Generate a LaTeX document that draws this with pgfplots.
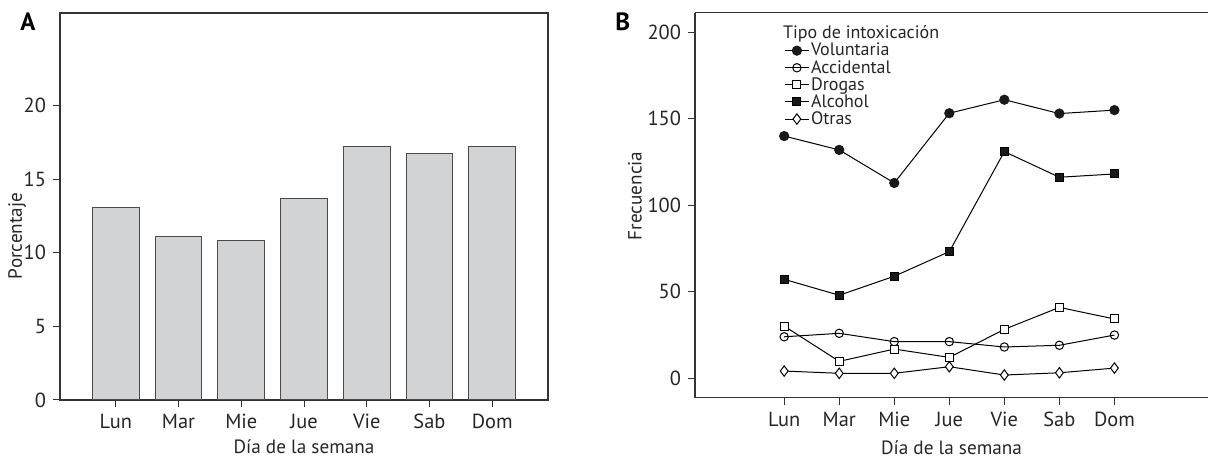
\documentclass[border=0pt]{standalone}
\usepackage{fontspec}
\setmainfont{PT Sans}
\usepackage{pgfplots}
\pgfplotsset{compat=1.18}
\definecolor{barfill}{HTML}{D1D3D4}
\definecolor{baredge}{HTML}{4A4A4A}
\definecolor{axiscol}{HTML}{333333}
\begin{document}
\begin{tikzpicture}
\path[use as bounding box] (0,0) rectangle (604pt,229.5pt);
\pgfplotsset{
  common/.style={
    scale only axis,
    anchor=south west,
    tick align=outside,
    major tick length=3.5pt,
    tick pos=left,
    axis line style={axiscol, line width=0.6pt},
    tick style={axiscol, line width=0.5pt},
    tick label style={font=\fontsize{10.2}{11}\selectfont, text=black!85},
    label style={font=\fontsize{9.6}{11}\selectfont, text=black!85},
    /pgf/number format/assume math mode=true,
    xtick={0,...,6},
    xticklabels={Lun,Mar,Mie,Jue,Vie,Sab,Dom},
    xlabel={Día de la semana},
  }
}
% Panel A
\begin{axis}[common,
  at={(30pt,29.5pt)},
  width=244pt, height=193.5pt,
  xmin=-0.89, xmax=6.89,
  ymin=0, ymax=26.3,
  ytick={0,5,10,15,20},
  ylabel={Porcentaje},
  ylabel style={at={(axis description cs:-0.088,0.424)}, anchor=center},
  xlabel style={at={(axis description cs:0.5,-0.121)}, anchor=center},
  ybar, bar width=23.3pt,
]
\addplot[fill=barfill, draw=baredge, line width=0.5pt] coordinates {
(0,13.08) (1,11.11) (2,10.86) (3,13.67) (4,17.23) (5,16.76) (6,17.23)};
\end{axis}
\node[anchor=north west, inner sep=0pt, font=\bfseries\fontsize{12.5}{14}\selectfont] at (10pt,223.4pt) {A};
% Panel B
\begin{axis}[common,
  at={(347.5pt,30.65pt)},
  width=256.5pt, height=192.5pt,
  axis x line*=bottom, axis y line*=left,
  xmin=-1.62, xmax=7.70,
  ymin=-11.2, ymax=211.3,
  ytick={0,50,100,150,200},
  ylabel={Frecuencia},
  ylabel style={at={(axis description cs:-0.117,0.524)}, anchor=center},
  xlabel style={at={(axis description cs:0.5,-0.13)}, anchor=center},
  legend style={at={(axis description cs:0.1735,0.924)}, anchor=north west,
    draw=none, fill=none, inner sep=0pt, row sep=0.25pt,
    font=\fontsize{9}{10}\selectfont,
    /tikz/every odd column/.append style={column sep=0.2pt},
    nodes={inner sep=0.6pt, text height=6.2pt, text depth=0.9pt, text=black!85}},
  legend cell align=left,
  legend image code/.code={\draw[mark repeat=2,mark phase=2,#1] plot coordinates {(0pt,0pt) (6pt,0pt) (12pt,0pt)};},
  every axis plot/.append style={line width=0.5pt, black},
]
\draw[axiscol, line width=0.6pt] (rel axis cs:0,1) -- (rel axis cs:1,1);
\addplot[mark=*, mark size=2.3pt, mark options={fill=black!90, draw=black!90}] coordinates {
(0,140) (1,132) (2,112.9) (3,153.2) (4,161) (5,153) (6,155)};
\addlegendentry{Voluntaria}
\addplot[mark=o, mark size=2.1pt, mark options={fill=white}] coordinates {
(0,24) (1,26) (2,21.2) (3,21.2) (4,18.1) (5,19.1) (6,25)};
\addlegendentry{Accidental}
\addplot[mark=square*, mark size=2pt, mark options={fill=white}] coordinates {
(0,30.2) (1,9.8) (2,16.9) (3,12.1) (4,28.3) (5,41) (6,34.3)};
\addlegendentry{Drogas}
\addplot[mark=square*, mark size=2pt, mark options={fill=black!90}] coordinates {
(0,57.2) (1,48) (2,59) (3,73.2) (4,131) (5,116.2) (6,118.1)};
\addlegendentry{Alcohol}
\addplot[mark=diamond*, mark size=2.6pt, mark options={fill=white}] coordinates {
(0,4.2) (1,2.9) (2,2.9) (3,6.7) (4,1.9) (5,3.2) (6,5.9)};
\addlegendentry{Otras}
\node[anchor=west, inner sep=0pt, font=\fontsize{9}{10}\selectfont, text=black!85] at (axis description cs:0.171,0.946) {Tipo de intoxicación};
\end{axis}
\node[anchor=north west, inner sep=0pt, font=\bfseries\fontsize{12.5}{14}\selectfont] at (307.5pt,223.4pt) {B};
\end{tikzpicture}
\end{document}
